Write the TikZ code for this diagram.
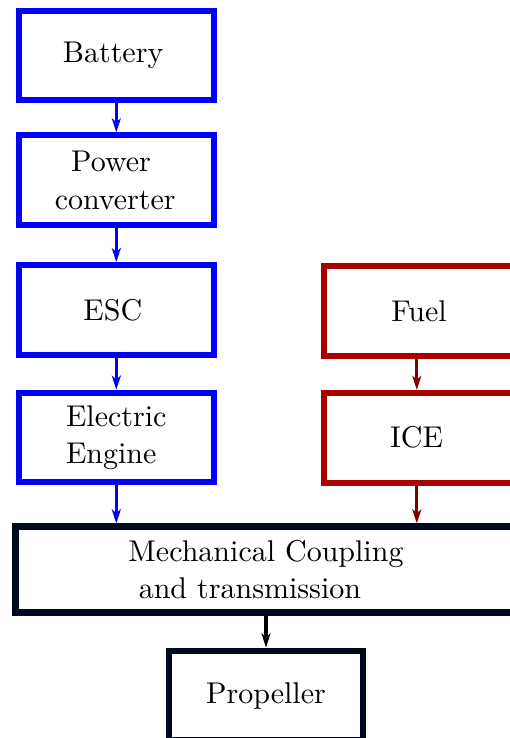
\documentclass[tikz,border=0pt]{standalone}
\usetikzlibrary{arrows.meta}
\definecolor{bblue}{RGB}{0,0,255}
\definecolor{rred}{RGB}{170,0,0}
\definecolor{rarrow}{RGB}{128,0,0}
\definecolor{nblack}{RGB}{0,10,30}
\tikzset{
  box/.style={draw, line width=2pt, minimum width=64.87pt, minimum height=29.87pt,
    inner sep=0pt, font=\fontsize{10}{12.5}\selectfont, fill=white},
  ebox/.style={box, draw=bblue},
  fbox/.style={box, draw=rred},
  mbox/.style={box, draw=nblack, line width=2.2pt},
  arr/.style={line width=1.1pt, -{Stealth[length=4.7pt,width=3pt,inset=1.3pt]}},
}
\begin{document}
\begin{tikzpicture}[x=0.33333pt,y=-0.33333pt]
\useasboundingbox (0,0) rectangle (510,738);
\clip (0,0) rectangle (510,738);
\node[ebox] (bat) at (116.3,55.5) {\raisebox{-0.6pt}{Battery}\hspace*{2.1pt}};
\node[ebox, align=center] (pc) at (116.3,180.2) {Power\hspace*{3.5pt}\\converter\hspace*{0.7pt}};
\node[ebox] (esc) at (116.3,310) {ESC\hspace*{2.3pt}};
\node[ebox, align=left] (ee) at (116.3,437.5) {Electric\\Engine};
\node[fbox] (fuel) at (421,311) {Fuel\hspace*{1.3pt}};
\node[fbox] (ice) at (421,437.7) {ICE\hspace*{3pt}};
\node[mbox, minimum width=167.1pt, minimum height=28.67pt, align=center] (mc) at (266,569.7)
  {Mechanical Coupling\\and transmission\hspace*{10.7pt}};
\node[mbox, minimum width=64.67pt] (prop) at (266,695.6) {Propeller};
\draw[arr, bblue] (bat.south) -- (pc.north);
\draw[arr, bblue] (pc.south) -- (esc.north);
\draw[arr, bblue] (esc.south) -- (ee.north);
\draw[arr, bblue] (ee.south) -- (ee.south |- mc.north);
\draw[arr, rarrow] ([xshift=-1.4pt]fuel.south) -- ([xshift=-1.4pt]ice.north);
\draw[arr, rarrow] ([xshift=-1.4pt]ice.south) -- ([xshift=-1.4pt]ice.south |- mc.north);
\draw[arr, black] (prop.north |- mc.south) -- (prop.north);
\end{tikzpicture}
\end{document}
